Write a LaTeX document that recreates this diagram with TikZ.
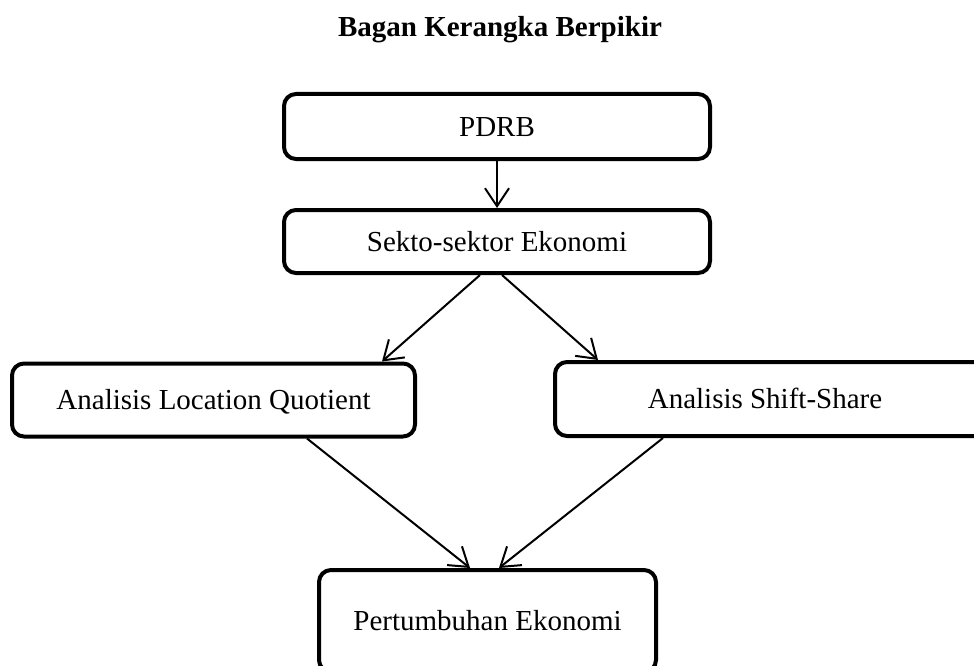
\documentclass[tikz,border=0pt]{standalone}
\usepackage{fontspec}
\setmainfont{Liberation Serif}
\usetikzlibrary{arrows.meta}
\begin{document}
\begin{tikzpicture}[x=1pt,y=-1pt,
  box/.style={draw, line width=4pt, rounded corners=12pt, inner sep=0pt,
    font=\fontsize{29}{34}\selectfont, text height=19.2pt, text depth=0pt, align=center},
  arr/.style={line width=2pt, -{Straight Barb[length=18pt,width=24pt,line width=2pt]}}]
\useasboundingbox (0,0) rectangle (974,666);
\node[font=\fontsize{29}{34}\selectfont\bfseries, anchor=base, inner sep=0pt] (title) at (500,37) {Bagan Kerangka Berpikir};
\node[box, minimum width=426pt, minimum height=65pt] (pdrb) at (497,126.5) {PDRB};
\node[box, minimum width=426pt, minimum height=63pt] (sekto) at (497,241.5) {Sekto-sektor Ekonomi};
\node[box, minimum width=403pt, minimum height=73pt] (lq) at (213.5,400) {Analisis Location Quotient};
\node[box, minimum width=445pt, minimum height=74pt] (ss) at (777.5,399) {\hspace*{-25pt}Analisis Shift-Share};
\node[box, minimum width=337pt, minimum height=102pt] (pert) at (487.5,621) {Pertumbuhan Ekonomi};
\draw[arr] (pdrb.south) -- (sekto.north);
\draw[arr] ([xshift=-17pt]sekto.south) -- ([xshift=-35pt]lq.north east);
\draw[arr] ([xshift=5pt]sekto.south) -- ([xshift=45pt]ss.north west);
\draw[arr] ([xshift=93.5pt]lq.south) -- ([xshift=-17.5pt]pert.north);
\draw[arr] ([xshift=-114.5pt]ss.south) -- ([xshift=11.5pt]pert.north);
\end{tikzpicture}
\end{document}
